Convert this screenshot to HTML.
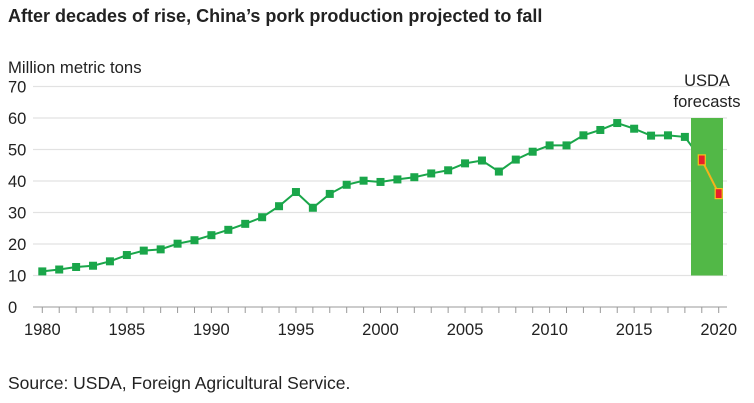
<!DOCTYPE html>
<html><head><meta charset="utf-8"><style>
body{margin:0;background:#fff;font-family:"Liberation Sans",Arial,sans-serif}
svg{display:block}
text{font-family:"Liberation Sans",Arial,sans-serif;fill:#222}
</style></head><body>
<svg width="754" height="403">
<text x="8" y="22" font-size="18" font-weight="bold">After decades of rise, China’s pork production projected to fall</text>
<text x="8" y="73" font-size="16.7">Million metric tons</text>
<text x="8" y="389" font-size="17.5">Source: USDA, Foreign Agricultural Service.</text>
<g id="grid"></g><g id="band"></g><g id="series"></g>
</svg>
<script>
const years=[];for(let y=1980;y<=2018;y++)years.push(y);
const values=[11.3,11.9,12.7,13.1,14.5,16.5,17.9,18.3,20.1,21.2,22.8,24.5,26.4,28.5,32.0,36.5,31.5,35.9,38.8,40.1,39.7,40.5,41.2,42.4,43.4,45.6,46.5,43.0,46.8,49.3,51.3,51.3,54.5,56.2,58.4,56.6,54.4,54.5,54.0];
const forecastYears=[2019,2020];
const forecastValues=[46.7,36.0];
const yTicks=[0,10,20,30,40,50,60,70];
const xLabels=[1980,1985,1990,1995,2000,2005,2010,2015,2020];
const NS="http://www.w3.org/2000/svg";
const X=y=>42.3+(y-1980)*16.91;
const Y=v=>307-v*3.15;
function mk(t,a,p){const e=document.createElementNS(NS,t);for(const k in a)e.setAttribute(k,a[k]);p.appendChild(e);return e;}
const grid=document.getElementById('grid');
yTicks.forEach(t=>{
 if(t>0){const l=mk('line',{x1:33,x2:727,y1:Y(t),y2:Y(t),stroke:'#e2e2e2','stroke-width':1.2},grid);
 
 }
 const tx=mk('text',{x:8,y:Y(t)+6,'font-size':16.5},grid);tx.textContent=t;
 
 
});
const ax=mk('line',{x1:33,x2:727,y1:307,y2:307,stroke:'#999','stroke-width':1},grid);


for(let y=1980;y<=2020;y++){mk('line',{x1:X(y),x2:X(y),y1:307,y2:313,stroke:'#999'},grid);}
xLabels.forEach(y=>{const t=mk('text',{x:X(y),y:335,'font-size':16.5,'text-anchor':'middle'},grid);t.textContent=y;
 
 });
const s=document.getElementById('series');
const pts=years.map((y,i)=>X(y)+','+Y(values[i])).concat([X(forecastYears[0])+','+Y(forecastValues[0])]).join(' ');
const line=mk('polyline',{points:pts,fill:'none',stroke:'#1aa64a','stroke-width':2},s);


const br=mk('rect',{x:691,y:Y(60),width:32,height:Y(10)-Y(60),fill:'#52b847'},s);


const lab=mk('text',{x:707,y:86,'font-size':16.5,'text-anchor':'middle'},s);lab.textContent='USDA';


const lab2=mk('text',{x:707,y:107,'font-size':16.5,'text-anchor':'middle'},s);lab2.textContent='forecasts';


years.forEach((y,i)=>{const r=mk('rect',{x:X(y)-4,y:Y(values[i])-4,width:8,height:8,fill:'#1aa64a'},s);
 
 });
const fl=mk('polyline',{points:forecastYears.map((y,i)=>X(y)+','+Y(forecastValues[i])).join(' '),fill:'none',stroke:'#f6b21b','stroke-width':2},s);


forecastYears.forEach((y,i)=>{const r=mk('rect',{x:X(y)-3.5,y:Y(forecastValues[i])-5,width:7,height:10,fill:'#e8202a',stroke:'#f6c21b','stroke-width':1.2},s);
 
 });
</script>
</body></html>
